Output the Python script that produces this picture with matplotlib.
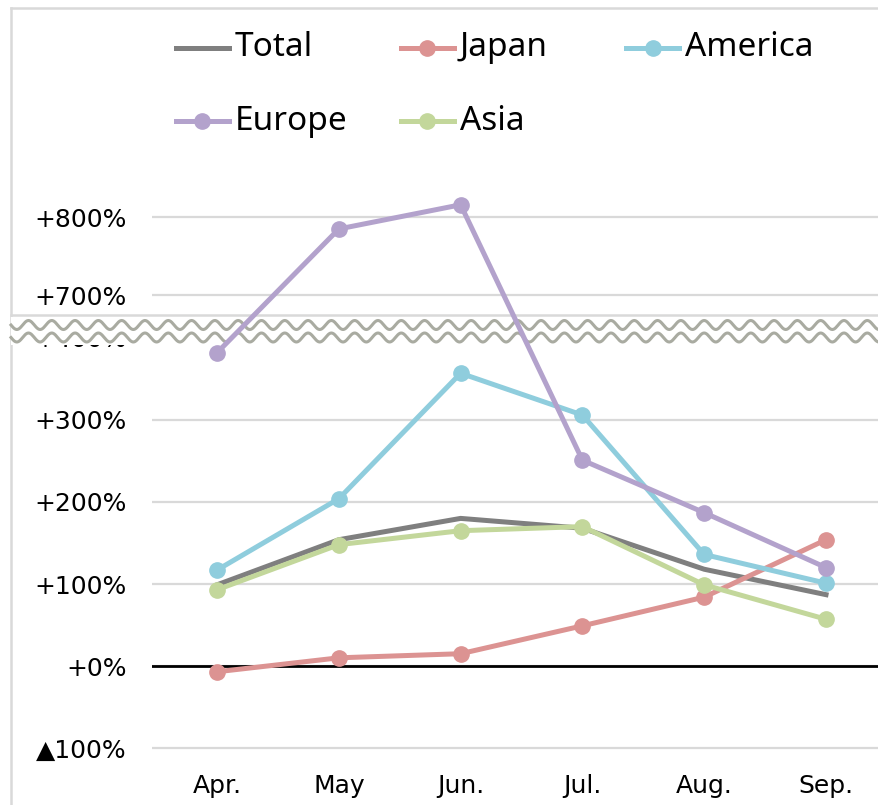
import numpy as np
import matplotlib.pyplot as plt
from matplotlib.lines import Line2D
from matplotlib.patches import Rectangle

months = ['Apr.', 'May', 'Jun.', 'Jul.', 'Aug.', 'Sep.']

# year-on-year change, %
total = [99, 154, 180, 168, 118, 87]
japan = [-7, 10, 15, 49, 84, 154]
america = [117, 204, 357, 306, 136, 101]
europe = [382, 785, 816, 251, 187, 120]
asia = [93, 148, 165, 170, 99, 57]

tick_vals = [-100, 0, 100, 200, 300, 400, 700, 800]
tick_text = ['▲100%', '+0%', '+100%', '+200%', '+300%', '+400%', '+700%', '+800%']

W, H = 879, 805

# broken axis: below LO plain scale, above HI compressed and shifted down
LO, HI, HI_POS, K = 420.0, 700.0, 452.1, 0.951


def fwd(v):
    v = np.asarray(v, dtype=float)
    mid = LO + (v - LO) * (HI_POS - LO) / (HI - LO)
    return np.where(v <= LO, v, np.where(v >= HI, HI_POS + (v - HI) * K, mid))


def inv(u):
    u = np.asarray(u, dtype=float)
    mid = LO + (u - LO) * (HI - LO) / (HI_POS - LO)
    return np.where(u <= LO, u, np.where(u >= HI_POS, HI + (u - HI_POS) / K, mid))


def fx(px):
    return px / W


def fy(py):
    return 1 - py / H


fig = plt.figure(figsize=(W / 100, H / 100), dpi=100)
ax = fig.add_axes([fx(152), fy(760), 1 - fx(152), fy(8) - fy(760)])
ax.set_yscale('function', functions=(fwd, inv))
ax.set_xlim(-0.534, 5.435)
ax.set_ylim(-114.6, 1068.3)

for s in ax.spines.values():
    s.set_visible(False)
ax.set_yticks(tick_vals)
ax.set_yticklabels(tick_text)
ax.set_xticks(range(len(months)))
ax.set_xticklabels(months)
ax.tick_params(axis='y', length=0, pad=18, labelsize=18)
ax.tick_params(axis='x', length=0, pad=10, labelsize=18)
ax.yaxis.grid(True, color='#d9d9d9', lw=1.6)
ax.set_axisbelow(True)
ax.axhline(0, color='black', lw=2.0, zorder=2)

series = [
    ('Total', total, '#7f7f7f', False),
    ('Japan', japan, '#dc9392', True),
    ('America', america, '#8fcddd', True),
    ('Europe', europe, '#b3a2cc', True),
    ('Asia', asia, '#c3d79b', True),
]
x = np.arange(len(months))
for i, (name, vals, col, mk) in enumerate(series):
    ax.plot(x, vals, color=col, lw=3.6, marker='o' if mk else None,
            ms=11, solid_joinstyle='round', zorder=4 + i)

# outer frame and the separator between the two panels
tf = fig.transFigure
for xs, ys in [((11, 11), (8, 805)), ((11, 879), (8, 8)), ((11, 879), (315, 315))]:
    ax.add_line(Line2D([fx(p) for p in xs], [fy(p) for p in ys], color='#d9d9d9',
                       lw=1.8, transform=tf, clip_on=False, zorder=1))

# wavy break band
ax.add_patch(Rectangle((fx(11), fy(345)), 1 - fx(11), fy(317) - fy(345),
                       transform=tf, facecolor='white', edgecolor='none',
                       clip_on=False, zorder=2.8))
wx = np.linspace(11, 879, 800)
for yc in (325, 337.5):
    wy = yc + 4.5 * np.sin(2 * np.pi * (wx - 11) / 23.3)
    ax.add_line(Line2D(fx(wx), fy(wy), color='#a9aba1', lw=2.2,
                       transform=tf, clip_on=False, zorder=2.9))

# legend
slots = {'Total': (176, 48), 'Japan': (401, 48), 'America': (626, 48),
         'Europe': (176, 121), 'Asia': (401, 121)}
for name, vals, col, mk in series:
    x0, y0 = slots[name]
    fig.add_artist(Line2D([fx(x0), fx(x0 + 53)], [fy(y0), fy(y0)], color=col,
                          lw=3.6, transform=tf))
    if mk:
        fig.add_artist(Line2D([fx(x0 + 26.5)], [fy(y0)], color=col, marker='o',
                              ms=11, transform=tf))
    fig.text(fx(x0 + 59), fy(y0), name, fontsize=24, family='Noto Sans',
             va='center', ha='left')

fig.savefig('out.png', dpi=100)
